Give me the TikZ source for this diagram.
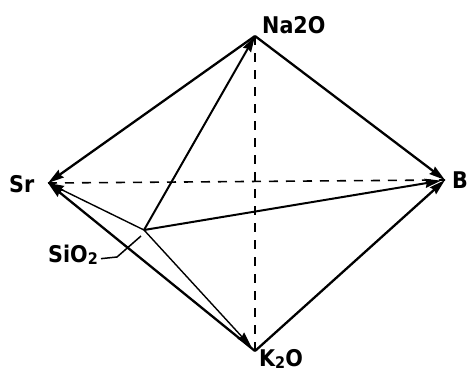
\documentclass[tikz,border=0pt]{standalone}
\usepackage{fontspec}
\setmainfont{DejaVu Sans Condensed}
\usetikzlibrary{arrows.meta}
\newcommand{\mysub}[1]{\raisebox{-0.12em}{\fontsize{16}{16}\selectfont #1}}
\tikzset{
  lbl/.style={anchor=base west, inner sep=0pt, font=\fontsize{23}{23}\selectfont\bfseries},
  tip/.style={-{Stealth[length=16pt,width=9pt,inset=1.5pt]}},
  edge/.style={line width=2.3pt, tip},
  inner/.style={line width=2pt, tip},
  thin/.style={line width=1.4pt, tip},
  dsh/.style={line width=1.6pt, dash pattern=on 9pt off 8pt},
  leader/.style={line width=1.5pt}
}
\begin{document}
\begin{tikzpicture}[x=1pt,y=-1pt]
\useasboundingbox (0,0) rectangle (468,373);
\fill[white] (0,0) rectangle (468,373);
\coordinate (N) at (255,36);
\coordinate (Sr) at (48,183);
\coordinate (B) at (445,180);
\coordinate (K) at (255,351);
\coordinate (S) at (144,230);
\coordinate (lk) at (117,257);
\coordinate (le) at (141,236);
% labels
\node[lbl] (lN) at (262,33) {Na2O};
\node[lbl] (lSr) at (9,192) {Sr};
\node[lbl] (lB) at (452,188) {B};
\node[lbl] (lK) at (259,366) {K\mysub{2}O};
\node[lbl] (lS) at (48,262) {SiO\mysub{2}};
% dashed
\draw[dsh] (Sr) -- (B);
\draw[dsh] (N) -- (K);
% outer edges
\draw[edge] (N) -- (Sr);
\draw[edge] (N) -- (B);
\draw[edge] (K) -- (Sr);
\draw[edge] (K) -- (B);
% from SiO2
\draw[inner] (S) -- (N);
\draw[inner, shorten >=4pt] (S) -- (B);
\draw[thin] (S) -- (Sr);
\draw[thin, shorten >=5pt] (S) -- (K);
% leader
\draw[leader] ([xshift=3pt,yshift=-4pt]lS.east) -- (lk) -- (le);
\end{tikzpicture}
\end{document}
